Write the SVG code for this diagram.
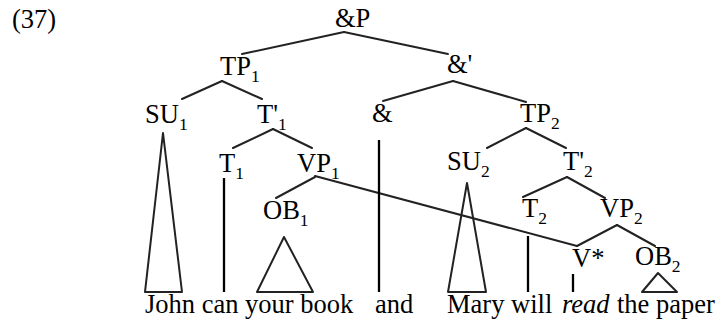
<svg xmlns="http://www.w3.org/2000/svg" width="718" height="320" viewBox="0 0 718 320">
<style>
text{font-family:"Liberation Serif","Times New Roman",serif;font-size:26.5px;fill:#000}
.s{font-size:17.5px}
.e{stroke:#222;stroke-width:2;fill:none;stroke-linecap:round}
.v{stroke:#000;stroke-width:2.3;fill:none}
.t{stroke:#222;stroke-width:2;fill:none;stroke-linejoin:round}
</style>
<rect width="718" height="320" fill="#fff"/>
<text x="12" y="28">(37)</text>
<g id="connectors">
<line class="e" x1="344" y1="32" x2="242" y2="54"/>
<line class="e" x1="344" y1="32" x2="448" y2="54"/>
<line class="e" x1="222" y1="81" x2="182" y2="99"/>
<line class="e" x1="222" y1="81" x2="262" y2="99"/>
<line class="e" x1="453" y1="81" x2="383" y2="101"/>
<line class="e" x1="453" y1="81" x2="526" y2="102"/>
<line class="e" x1="273" y1="129" x2="233" y2="148"/>
<line class="e" x1="273" y1="129" x2="312" y2="148"/>
<line class="e" x1="526" y1="128" x2="487" y2="148"/>
<line class="e" x1="526" y1="128" x2="566" y2="148"/>
<line class="e" x1="315" y1="177" x2="276" y2="198"/>
<line class="e" x1="315" y1="176" x2="577" y2="246"/>
<line class="e" x1="567" y1="177" x2="523" y2="197"/>
<line class="e" x1="567" y1="177" x2="605" y2="198"/>
<line class="e" x1="617" y1="225" x2="577" y2="246"/>
<line class="e" x1="617" y1="225" x2="655" y2="246"/>
<line class="v" x1="224" y1="178" x2="224" y2="292"/>
<line class="v" x1="379" y1="140" x2="379" y2="292"/>
<line class="v" x1="528" y1="236" x2="528" y2="292"/>
<line class="v" x1="573" y1="274" x2="573" y2="292"/>
<polygon class="t" points="163,133 145,292 182,292"/>
<polygon class="t" points="284,237 257,292 313,292"/>
<polygon class="t" points="467,183 448,292 486,292"/>
<polygon class="t" points="658,273 642,292 677,292"/>
</g>
<g id="andP"><text x="335" y="27">&amp;P</text></g>
<g id="TP1"><text x="220" y="75">TP<tspan class="s" dy="7">1</tspan></text></g>
<g id="andBar"><text x="447" y="73">&amp;'</text></g>
<g id="SU1"><text x="145" y="123">SU<tspan class="s" dy="7">1</tspan></text></g>
<g id="Tbar1"><text x="257" y="123">T'<tspan class="s" dy="7">1</tspan></text></g>
<g id="and"><text x="372" y="122">&amp;</text></g>
<g id="TP2"><text x="520" y="122">TP<tspan class="s" dy="7">2</tspan></text></g>
<g id="T1"><text x="219" y="172">T<tspan class="s" dy="7">1</tspan></text></g>
<g id="VP1"><text x="297" y="172">VP<tspan class="s" dy="7">1</tspan></text></g>
<g id="SU2"><text x="447" y="170">SU<tspan class="s" dy="7">2</tspan></text></g>
<g id="Tbar2"><text x="563" y="170">T'<tspan class="s" dy="7">2</tspan></text></g>
<g id="OB1"><text x="263" y="219">OB<tspan class="s" dy="7">1</tspan></text></g>
<g id="T2"><text x="522" y="217">T<tspan class="s" dy="7">2</tspan></text></g>
<g id="VP2"><text x="600" y="217">VP<tspan class="s" dy="7">2</tspan></text></g>
<g id="Vstar"><text x="572" y="267">V*</text></g>
<g id="OB2"><text x="635" y="265">OB<tspan class="s" dy="7">2</tspan></text></g>
<g id="words">
<text x="145" y="313">John can your book</text>
<text x="375" y="313">and</text>
<text x="447" y="313">Mary will</text>
<text x="562" y="313" font-style="italic">read</text>
<text x="617" y="313">the paper</text>
</g>
</svg>
